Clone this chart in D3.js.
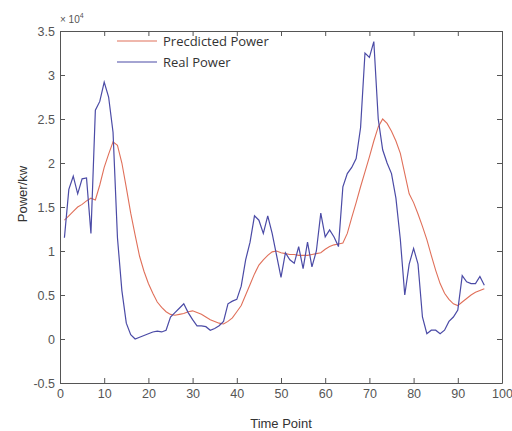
<!DOCTYPE html>
<html>
<head>
<meta charset="utf-8">
<script src="https://cdn.jsdelivr.net/npm/d3@7"></script>
<style>
  body { margin: 0; background: #fff; }
  svg { display: block; font-family: "Liberation Sans", Arial, sans-serif; }
</style>
</head>
<body>
<div id="chart"></div>
<script>
// values in units of 1e4 kW, time points 1..96
var timePoints = d3.range(1, 97);

var realPower = [
  1.15, 1.7, 1.85, 1.65, 1.82, 1.83, 1.2, 2.6, 2.7, 2.92,
  2.75, 2.35, 1.15, 0.55, 0.18, 0.05, 0.0, 0.02, 0.04, 0.06,
  0.08, 0.09, 0.08, 0.1, 0.25, 0.3, 0.35, 0.4, 0.3, 0.22,
  0.15, 0.15, 0.14, 0.1, 0.12, 0.15, 0.2, 0.4, 0.43, 0.45,
  0.6, 0.9, 1.1, 1.4, 1.35, 1.2, 1.4, 1.2, 0.95, 0.7,
  0.98, 0.9, 0.86, 1.05, 0.8, 1.1, 0.82, 1.0, 1.43, 1.16,
  1.24, 1.16, 1.05, 1.73, 1.88, 1.95, 2.05, 2.4, 3.25, 3.2,
  3.38, 2.5, 2.15, 2.0, 1.88, 1.6, 1.13, 0.5, 0.85, 1.03,
  0.85, 0.25, 0.06, 0.1, 0.1, 0.06, 0.1, 0.2, 0.25, 0.33,
  0.72, 0.65, 0.63, 0.63, 0.71, 0.61
];

var predictedPower = [
  1.35, 1.4, 1.45, 1.5, 1.53, 1.57, 1.6, 1.58, 1.75, 1.95,
  2.1, 2.24, 2.2, 2.0, 1.72, 1.43, 1.18, 0.94, 0.77, 0.63,
  0.52, 0.42, 0.36, 0.31, 0.28, 0.27, 0.28, 0.29, 0.31, 0.32,
  0.3, 0.28, 0.25, 0.22, 0.2, 0.18, 0.17, 0.2, 0.24, 0.31,
  0.38, 0.5, 0.62, 0.74, 0.84, 0.9, 0.95, 0.99, 1.0, 0.98,
  0.97, 0.96, 0.96, 0.95, 0.95, 0.95, 0.96, 0.97, 0.98, 1.02,
  1.05, 1.07, 1.08, 1.09, 1.2, 1.38, 1.55, 1.73, 1.9, 2.07,
  2.25, 2.41, 2.5, 2.45, 2.36, 2.25, 2.11, 1.88, 1.65, 1.55,
  1.42, 1.28, 1.13, 0.95, 0.78, 0.63, 0.52, 0.45, 0.4, 0.38,
  0.42, 0.46, 0.5, 0.53, 0.55, 0.57
];

var xTicks = d3.range(0, 101, 10);
var yTicks = [-0.5, 0, 0.5, 1, 1.5, 2, 2.5, 3, 3.5];

var width = 512, height = 431;
var margin = { top: 31, right: 10, bottom: 48, left: 60 };
var innerW = width - margin.left - margin.right;
var innerH = height - margin.top - margin.bottom;

var svg = d3.select("#chart").append("svg")
    .attr("width", width)
    .attr("height", height);

var g = svg.append("g")
    .attr("transform", "translate(" + margin.left + "," + margin.top + ")");

var x = d3.scaleLinear().domain([0, 100]).range([0, innerW]);
var y = d3.scaleLinear().domain([-0.5, 3.5]).range([innerH, 0]);

var tickColor = "#555";
var tickFont = "'Liberation Sans Narrow', 'Liberation Sans', Arial, sans-serif";

// axes (ticks pointing inwards, matlab style)
var bottomAxis = d3.axisBottom(x).tickValues(xTicks).tickSizeInner(-5).tickSizeOuter(0).tickPadding(6);
var leftAxis = d3.axisLeft(y).tickValues(yTicks).tickSizeInner(-5).tickSizeOuter(0).tickPadding(5)
    .tickFormat(function(d) { return d3.format("")(d).replace("\u2212", "-"); });
var topAxis = d3.axisTop(x).tickValues(xTicks).tickSizeInner(-5).tickSizeOuter(0).tickFormat("");
var rightAxis = d3.axisRight(y).tickValues(yTicks).tickSizeInner(-5).tickSizeOuter(0).tickFormat("");

function styleAxis(sel) {
    sel.select(".domain").attr("stroke", tickColor);
    sel.selectAll(".tick line").attr("stroke", tickColor);
    sel.selectAll(".tick text").attr("fill", "#555").style("font-size", "12.5px")
        .style("font-family", tickFont);
}

g.append("g").attr("transform", "translate(0," + innerH + ")").call(bottomAxis).call(styleAxis);
g.append("g").call(leftAxis).call(styleAxis);
g.append("g").call(topAxis).call(styleAxis);
g.append("g").attr("transform", "translate(" + innerW + ",0)").call(rightAxis).call(styleAxis);

// exponent label
var expo = svg.append("text")
    .attr("x", margin.left)
    .attr("y", margin.top - 8)
    .attr("fill", "#555")
    .style("font-family", tickFont)
    .style("font-size", "10px");
expo.append("tspan").text("\u00d7 10");
expo.append("tspan").attr("dy", -5).style("font-size", "7px").text("4");

var line = d3.line()
    .x(function(d, i) { return x(timePoints[i]); })
    .y(function(d) { return y(d); });

g.append("path")
    .datum(predictedPower)
    .attr("fill", "none")
    .attr("stroke", "#e0705a")
    .attr("stroke-width", 1.1)
    .attr("d", line);

g.append("path")
    .datum(realPower)
    .attr("fill", "none")
    .attr("stroke", "#4b4ba6")
    .attr("stroke-width", 1.2)
    .attr("d", line);

// legend
var legendItems = [
    { label: "Precdicted Power", color: "#e0705a" },
    { label: "Real Power", color: "#4b4ba6" }
];
var legend = svg.append("g").attr("transform", "translate(117,41)");
legendItems.forEach(function(item, i) {
    var row = legend.append("g").attr("transform", "translate(0," + (i * 21) + ")");
    row.append("line").attr("x1", 0).attr("x2", 40).attr("y1", 0).attr("y2", 0)
        .attr("stroke", item.color).attr("stroke-width", 1.1);
    row.append("text").attr("x", 46).attr("y", 5)
        .attr("fill", "#333")
        .style("font-family", "'Open Sans', 'DejaVu Sans', sans-serif")
        .style("font-size", "13px")
        .text(item.label);
});

// axis titles
svg.append("text")
    .attr("transform", "translate(27,194) rotate(-90)")
    .attr("text-anchor", "middle")
    .attr("fill", "#333")
    .style("font-size", "13px")
    .text("Power/kw");

svg.append("text")
    .attr("x", margin.left + innerW / 2)
    .attr("y", height - 3)
    .attr("text-anchor", "middle")
    .attr("fill", "#333")
    .style("font-size", "13px")
    .text("Time Point");
</script>
</body>
</html>
